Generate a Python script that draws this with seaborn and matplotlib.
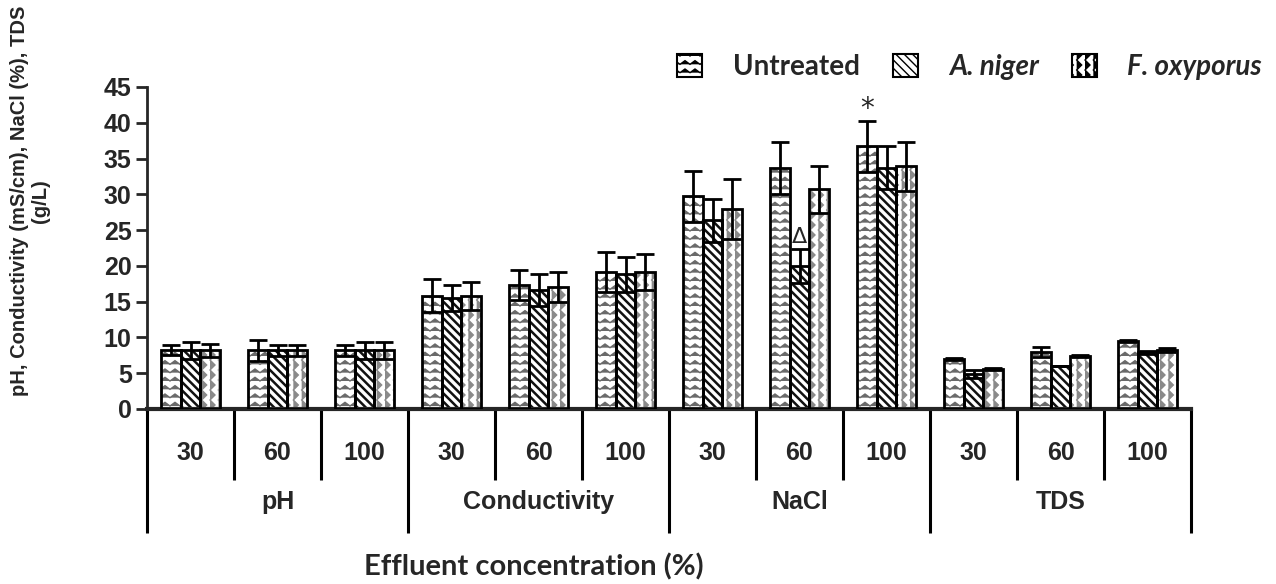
import numpy as np
import pandas as pd
import matplotlib
matplotlib.use("Agg")
import matplotlib.pyplot as plt
import matplotlib.hatch as mhatch
from matplotlib.path import Path
from matplotlib.patches import Patch, Rectangle
import seaborn as sns

# ---------------- data ----------------
parameters = ["pH", "Conductivity", "NaCl", "TDS"]
concentrations = ["30", "60", "100"]
treatments = ["Untreated", "A. niger", "F. oxyporus"]

untreated_mean = [8.3, 8.2, 8.2, 15.8, 17.3, 19.1, 29.7, 33.7, 36.7, 7.0, 7.9, 9.5]
untreated_err = [0.7, 1.5, 0.8, 2.3, 2.1, 2.8, 3.5, 3.6, 3.6, 0.1, 0.7, 0.2]
niger_mean = [8.2, 8.2, 8.2, 15.5, 16.6, 18.8, 26.4, 20.0, 33.7, 4.9, 6.0, 7.9]
niger_err = [1.2, 0.8, 1.2, 1.8, 2.2, 2.4, 3.0, 2.4, 3.0, 0.5, 0.0, 0.2]
foxy_mean = [8.2, 8.2, 8.2, 15.8, 17.0, 19.1, 27.9, 30.7, 33.9, 5.6, 7.4, 8.2]
foxy_err = [0.9, 0.8, 1.2, 1.9, 2.1, 2.5, 4.2, 3.3, 3.4, 0.1, 0.2, 0.3]

y_ticks = [0, 5, 10, 15, 20, 25, 30, 35, 40, 45]

# ---------------- custom zig-zag hatches ----------------
class HZigZag(mhatch.HatchPatternBase):
    def __init__(self, hatch, density):
        self.num_lines = int(hatch.count('-') * density)
        self.nseg = 20
        self.num_vertices = self.num_lines * (self.nseg + 1)

    def set_vertices_and_codes(self, vertices, codes):
        steps, stepsize = np.linspace(0.0, 1.0, self.num_lines, False, retstep=True)
        steps += stepsize / 2.0
        k = self.nseg + 1
        xs = np.linspace(0.0, 1.0, k)
        off = np.where(np.arange(k) % 2 == 0, -0.22, 0.22) * stepsize
        for i, s in enumerate(steps):
            vertices[i * k:(i + 1) * k, 0] = xs
            vertices[i * k:(i + 1) * k, 1] = s + off
            codes[i * k] = Path.MOVETO
            codes[i * k + 1:(i + 1) * k] = Path.LINETO


class VZigZag(mhatch.HatchPatternBase):
    def __init__(self, hatch, density):
        self.num_lines = int(hatch.count('|') * density)
        self.nseg = 20
        self.num_vertices = self.num_lines * (self.nseg + 1)

    def set_vertices_and_codes(self, vertices, codes):
        steps, stepsize = np.linspace(0.0, 1.0, self.num_lines, False, retstep=True)
        steps += stepsize / 2.0
        k = self.nseg + 1
        ys = np.linspace(0.0, 1.0, k)
        off = np.where(np.arange(k) % 2 == 0, -0.3, 0.3) * stepsize
        for i, s in enumerate(steps):
            vertices[i * k:(i + 1) * k, 1] = ys
            vertices[i * k:(i + 1) * k, 0] = s + off
            codes[i * k] = Path.MOVETO
            codes[i * k + 1:(i + 1) * k] = Path.LINETO


mhatch._hatch_types = [HZigZag if t is mhatch.HorizontalHatch else
                       VZigZag if t is mhatch.VerticalHatch else t
                       for t in mhatch._hatch_types]

# ---------------- build table ----------------
keys = [f"{p} {c}" for p in parameters for c in concentrations]
rows = []
for means, errs, t in [(untreated_mean, untreated_err, treatments[0]),
                       (niger_mean, niger_err, treatments[1]),
                       (foxy_mean, foxy_err, treatments[2])]:
    for k, m, e in zip(keys, means, errs):
        rows.append({"key": k, "value": m, "err": e, "treatment": t})
df = pd.DataFrame(rows)

# ---------------- style ----------------
sns.set_style("white")
plt.rcParams["font.family"] = ["Liberation Sans", "DejaVu Sans"]
plt.rcParams["hatch.linewidth"] = 1.0

fig = plt.figure(figsize=(12.76, 5.84), dpi=100)
ax = fig.add_axes([147 / 1276, 1 - 409 / 584, (1191 - 147) / 1276, (409 - 87) / 584])

sns.barplot(data=df, x="key", y="value", hue="treatment", order=keys,
            hue_order=treatments, palette=["white"] * 3, width=0.67, gap=0,
            errorbar=None, legend=False, ax=ax, linewidth=0)

hatches = ["--", "\\\\\\\\", "||"]
hatch_colors = ["#6a6a6a", "#111111", "#8a8a8a"]
hatch_lws = [1.0, 1.8, 1.0]
err_lists = [untreated_err, niger_err, foxy_err]


def set_hlw(p, lw):
    if hasattr(p, "set_hatch_linewidth"):
        try:
            p.set_hatch_linewidth(lw)
        except Exception:
            pass


for cont, h, hc, hlw, errs in zip(ax.containers, hatches, hatch_colors, hatch_lws, err_lists):
    xs, ys = [], []
    for bar in cont.patches:
        bar.set_hatch(h)
        bar.set_edgecolor(hc)
        bar.set_linewidth(0)
        set_hlw(bar, hlw)
        ax.add_patch(Rectangle((bar.get_x(), bar.get_y()), bar.get_width(), bar.get_height(),
                               fill=False, edgecolor="black", linewidth=2.0, zorder=3))
        xs.append(bar.get_x() + bar.get_width() / 2)
        ys.append(bar.get_height())
    ax.errorbar(xs, ys, yerr=errs, fmt="none", ecolor="black", elinewidth=2.0,
                capsize=6.5, capthick=2.0, zorder=4)

# significance marks
c_unt = ax.containers[0].patches
c_nig = ax.containers[1].patches
b = c_unt[keys.index("NaCl 100")]
ax.annotate("*", (b.get_x() + b.get_width() / 2, b.get_height() + untreated_err[keys.index("NaCl 100")]),
            xytext=(0, -2), textcoords="offset points", ha="center", va="bottom",
            fontsize=20, family="DejaVu Sans")
b = c_nig[keys.index("NaCl 60")]
ax.annotate("Δ", (b.get_x() + b.get_width() / 2, b.get_height() + niger_err[keys.index("NaCl 60")]),
            xytext=(0, 1), textcoords="offset points", ha="center", va="bottom",
            fontsize=16, family="DejaVu Sans")

# axes
ax.set_ylim(0, 45)
ax.set_xlim(-0.5, len(keys) - 0.5)
ax.set_yticks(y_ticks)
ax.set_yticklabels([str(t) for t in y_ticks], fontsize=18, fontweight="bold")
ax.tick_params(axis="y", length=8, width=2, direction="out", left=True, pad=3)
ax.set_xticks(range(len(keys)))
ax.set_xticklabels([k.split()[1] for k in keys], fontsize=18, fontweight="bold")
ax.tick_params(axis="x", length=0, pad=23)
for s in ["top", "right"]:
    ax.spines[s].set_visible(False)
ax.spines["left"].set_linewidth(2)
ax.spines["bottom"].set_linewidth(3)
ax.set_xlabel("")
ax.set_ylabel("pH, Conductivity (mS/cm), NaCl (%), TDS\n(g/L)", fontsize=14.5,
              fontweight="bold", linespacing=1.15)
ax.yaxis.set_label_coords(-0.093, 0.645)

# hierarchical x axis separators and group labels
tr = ax.get_xaxis_transform()
for i in range(len(keys) + 1):
    xpos = i - 0.5
    if i % 3 == 0:
        ax.plot([xpos, xpos], [0, -0.385], transform=tr, color="black", lw=2.2,
                clip_on=False, solid_capstyle="butt")
    else:
        ax.plot([xpos, xpos], [0, -0.22], transform=tr, color="black", lw=2.2,
                clip_on=False, solid_capstyle="butt")
for gi, p in enumerate(parameters):
    ax.text(gi * 3 + 1, -0.29, p, transform=tr, ha="center", va="center",
            fontsize=18, fontweight="bold")

fig.text(534 / 1276, 1 - 567 / 584, "Effluent concentration (%)", ha="center", va="center",
         fontsize=21, fontweight="bold", family="Lato")

# legend
handles = []
for h, hlw in zip(hatches, hatch_lws):
    p = Patch(facecolor="white", edgecolor="black", hatch=h, linewidth=1.5)
    set_hlw(p, hlw)
    handles.append(p)
leg = fig.legend(handles, treatments, ncol=3, loc="center right",
                 bbox_to_anchor=(1.0, 1 - 67 / 584), frameon=False,
                 prop={"family": "Lato", "weight": "bold", "size": 20},
                 handlelength=0.9, handleheight=0.9, handletextpad=1.1,
                 columnspacing=1.2, borderaxespad=0.1)
for t in leg.get_texts()[1:]:
    t.set_fontstyle("italic")

fig.savefig("out.png", dpi=100)
